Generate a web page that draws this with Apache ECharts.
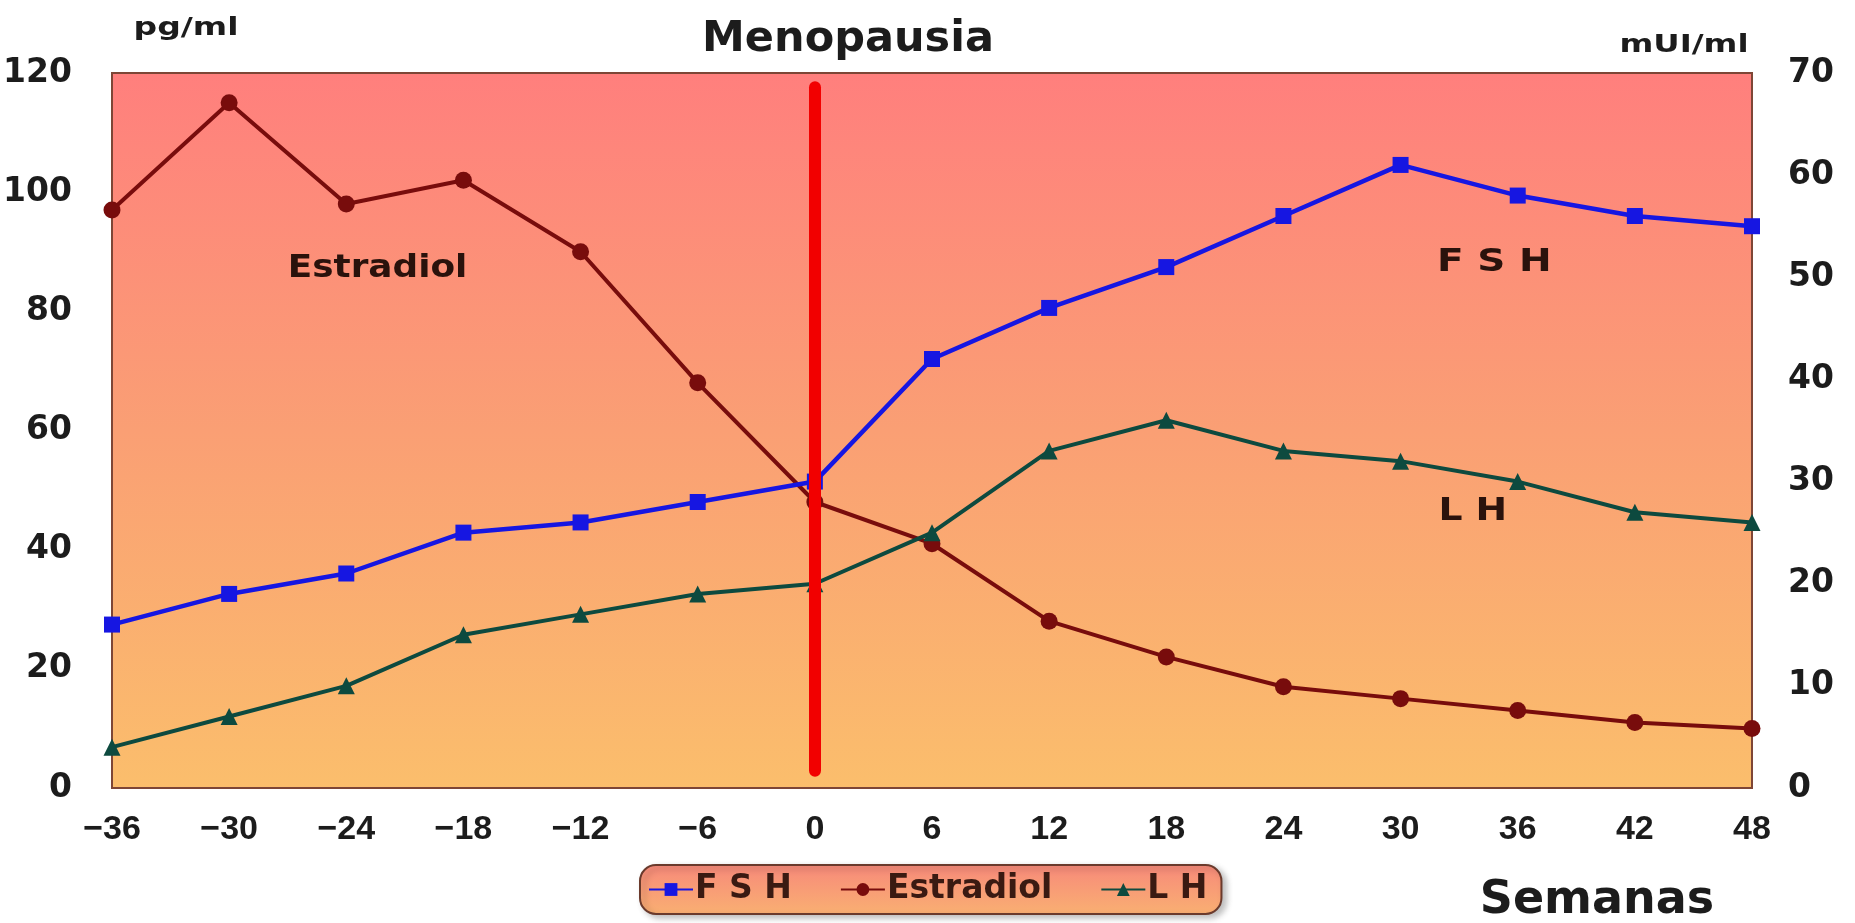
<!DOCTYPE html>
<html>
<head>
<meta charset="utf-8">
<title>Menopausia</title>
<script src="https://cdn.jsdelivr.net/npm/echarts@6/dist/echarts.min.js"></script>
<style>
  html, body { margin: 0; padding: 0; background: #ffffff; }
  #chart { width: 1855px; height: 923px; }
</style>
</head>
<body>
<div id="chart"></div>
<script>
// Semanas relativas a la menopausia
const semanas = [-36, -30, -24, -18, -12, -6, 0, 6, 12, 18, 24, 30, 36, 42, 48];
// FSH y LH en mUI/ml (eje derecho), estradiol en pg/ml (eje izquierdo)
const fsh       = [16, 19, 21, 25, 26, 28, 30, 42, 47, 51, 56, 61, 58, 56, 55];
const estradiol = [97, 115, 98, 102, 90, 68, 48, 41, 28, 22, 17, 15, 13, 11, 10];
const lh        = [4, 7, 10, 15, 17, 19, 20, 25, 33, 36, 33, 32, 30, 27, 26];

const pgTicks  = [0, 20, 40, 60, 80, 100, 120];
const muiTicks = [0, 10, 20, 30, 40, 50, 60, 70];

// Etiquetas junto a cada curva: [texto, semana, valor, eje]
const etiquetas = [
  ['Estradiol', -22.4, 87.2, 0],
  ['F S H', 34.8, 51.4, 1],
  ['L H', 33.7, 27.1, 1]
];

const WIDE = '"DejaVu Sans", Verdana, sans-serif';
const NARROW = '"Liberation Sans", Arial, sans-serif';
const TXT = '#1c1c1c';
const BROWN = '#3a1a12';

const pairs = (ys) => semanas.map((x, i) => [x, ys[i]]);

const chart = echarts.init(document.getElementById('chart'), null, { renderer: 'canvas' });

const yLabel = { color: TXT, fontFamily: WIDE, fontWeight: 'bold', fontSize: 33, margin: 40 };

const option = {
  backgroundColor: '#ffffff',
  animation: false,
  grid: {
    left: 112, right: 103, top: 73, bottom: 135,
    show: true,
    borderColor: '#7e4636',
    borderWidth: 2,
    backgroundColor: {
      type: 'linear', x: 0, y: 0, x2: 0, y2: 1,
      colorStops: [
        { offset: 0, color: '#ff7f7d' },
        { offset: 0.5, color: '#fa9f74' },
        { offset: 1, color: '#fbbe6c' }
      ]
    }
  },
  xAxis: {
    type: 'value',
    min: semanas[0], max: semanas[semanas.length - 1], interval: 6,
    axisLine: { show: false },
    axisTick: { show: false },
    splitLine: { show: false },
    axisLabel: {
      color: TXT, fontFamily: NARROW, fontWeight: 'bold', fontSize: 34, margin: 25,
      formatter: (v) => String(v).replace('-', '\u2212')
    }
  },
  yAxis: [
    {
      type: 'value', min: pgTicks[0], max: pgTicks[pgTicks.length - 1], interval: 20,
      axisLine: { show: false }, axisTick: { show: false }, splitLine: { show: false },
      axisLabel: yLabel
    },
    {
      type: 'value', min: muiTicks[0], max: muiTicks[muiTicks.length - 1], interval: 10,
      position: 'right',
      axisLine: { show: false }, axisTick: { show: false }, splitLine: { show: false },
      axisLabel: Object.assign({}, yLabel, { margin: 36 })
    }
  ],
  legend: {
    left: 640, top: 865,
    padding: [8, 14, 8, 8],
    itemGap: 48,
    itemWidth: 44, itemHeight: 16,
    borderColor: '#6a3a2c', borderWidth: 2, borderRadius: 16,
    backgroundColor: {
      type: 'linear', x: 0, y: 0, x2: 0, y2: 1,
      colorStops: [
        { offset: 0, color: '#f7897a' },
        { offset: 1, color: '#f9b072' }
      ]
    },
    shadowColor: 'rgba(0,0,0,0.25)', shadowBlur: 6, shadowOffsetX: 4, shadowOffsetY: 3,
    textStyle: { color: BROWN, fontFamily: WIDE, fontWeight: 'bold', fontSize: 33, padding: [0, 0, 0, -3] },
    data: ['F S H', 'Estradiol', 'L H']
  },
  series: [
    {
      name: 'F S H', type: 'line', yAxisIndex: 1, data: pairs(fsh),
      symbol: 'rect', symbolSize: 16,
      lineStyle: { color: '#1616e2', width: 4.5 },
      itemStyle: { color: '#1616e2' },
      z: 4
    },
    {
      name: 'Estradiol', type: 'line', yAxisIndex: 0, data: pairs(estradiol),
      symbol: 'circle', symbolSize: 17,
      lineStyle: { color: '#780c0c', width: 4 },
      itemStyle: { color: '#780c0c' },
      z: 3,
      markLine: {
        silent: true, symbol: ['none', 'none'], z: 10,
        label: { show: false },
        lineStyle: { color: '#f20000', width: 12, type: 'solid', cap: 'round' },
        data: [[{ coord: [0, 117.6] }, { coord: [0, 2.9] }]]
      }
    },
    {
      name: 'L H', type: 'line', yAxisIndex: 1, data: pairs(lh),
      symbol: 'triangle', symbolSize: 17,
      lineStyle: { color: '#0d4a3f', width: 4 },
      itemStyle: { color: '#0d4a3f' },
      z: 4
    }
  ]
};

chart.setOption(option);

// Texto fijo centrado en (x, y), ensanchado con sx
function texto(t, x, y, size, sx, color) {
  return {
    type: 'text', x: x, y: y, scaleX: sx, scaleY: 1, z: 20,
    style: { text: t, fill: color || TXT, font: 'bold ' + size + 'px ' + WIDE, align: 'center', verticalAlign: 'middle' }
  };
}

const graphics = [
  texto('Menopausia', 848, 40, 43, 1),
  texto('pg/ml', 186, 28, 25, 1.32),
  texto('mUI/ml', 1684, 45, 25, 1.3),
  texto('Semanas', 1597, 901, 46, 1)
];

// Etiquetas de curva colocadas en coordenadas de datos
const ensanche = { 'Estradiol': 1.12, 'F S H': 1.22, 'L H': 1.18 };
etiquetas.forEach(([t, x, y, eje]) => {
  const p = chart.convertToPixel({ xAxisIndex: 0, yAxisIndex: eje }, [x, y]);
  graphics.push(texto(t, p[0], p[1], 32, ensanche[t], '#2a120c'));
});

chart.setOption({ graphic: graphics });
</script>
</body>
</html>
